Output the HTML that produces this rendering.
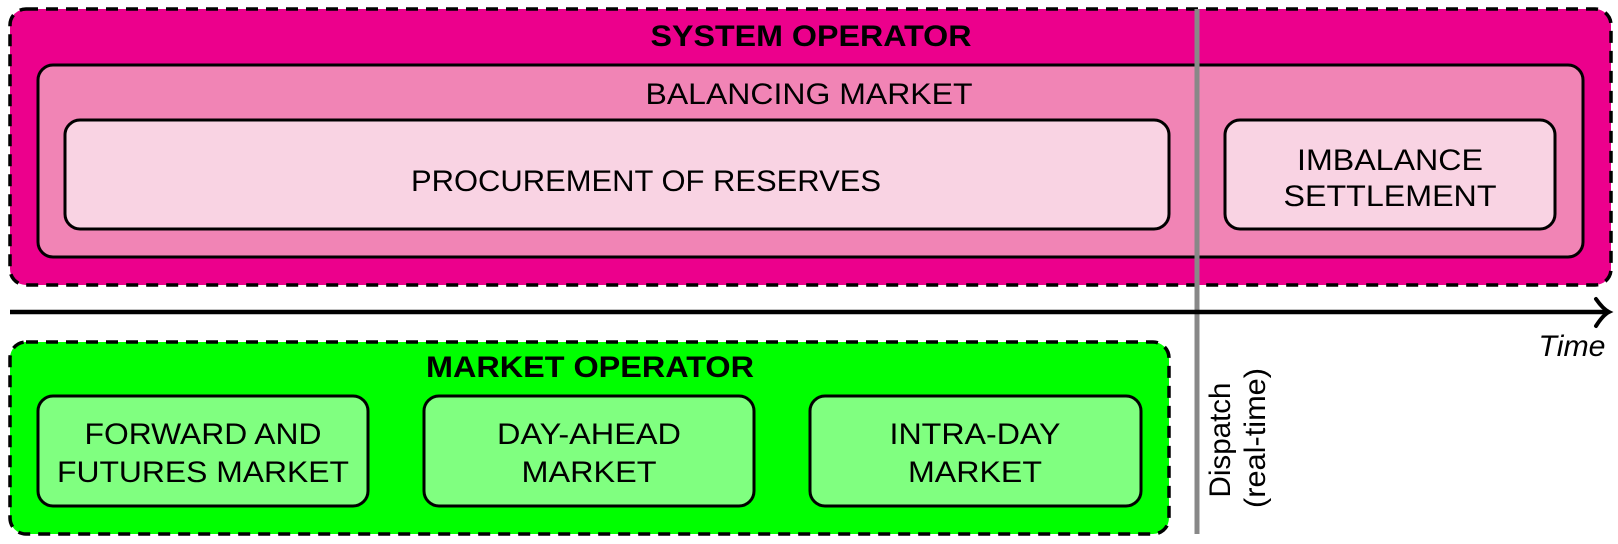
<!DOCTYPE html>
<html><head><meta charset="utf-8"><style>html,body{margin:0;padding:0;background:#fff}svg{display:block}</style></head>
<body>
<svg width="1618" height="544" viewBox="0 0 1618 544" xmlns="http://www.w3.org/2000/svg" font-family="'Liberation Sans', sans-serif">
<rect x="10" y="9" width="1601" height="276" rx="16" fill="#EC008C" stroke="#000" stroke-width="3.5" stroke-dasharray="12,8"/>
<rect x="38" y="65" width="1545" height="192" rx="15" fill="#F184B5" stroke="#000" stroke-width="3"/>
<rect x="65" y="120" width="1104" height="109" rx="15" fill="#F9D3E3" stroke="#000" stroke-width="3"/>
<rect x="1225" y="120" width="330" height="109" rx="15" fill="#F9D3E3" stroke="#000" stroke-width="3"/>
<rect x="10" y="342" width="1159" height="192" rx="16" fill="#00FF00" stroke="#000" stroke-width="3.5" stroke-dasharray="12,8"/>
<rect x="38" y="396" width="330" height="110" rx="15" fill="#80FF80" stroke="#000" stroke-width="3"/>
<rect x="424" y="396" width="330" height="110" rx="15" fill="#80FF80" stroke="#000" stroke-width="3"/>
<rect x="810" y="396" width="331" height="110" rx="15" fill="#80FF80" stroke="#000" stroke-width="3"/>
<line x1="1197" y1="9" x2="1197" y2="534" stroke="#888" stroke-width="5"/>
<line x1="10" y1="312" x2="1606" y2="312" stroke="#000" stroke-width="4.5"/>
<path d="M1596 299 Q1603 309 1609 312 Q1603 315 1596 326" fill="none" stroke="#000" stroke-width="4" stroke-linecap="round"/>
<g font-size="30" fill="#000" text-anchor="middle">
<text x="811" y="46" font-weight="bold" textLength="321" lengthAdjust="spacingAndGlyphs">SYSTEM OPERATOR</text>
<text x="809" y="104" textLength="327" lengthAdjust="spacingAndGlyphs">BALANCING MARKET</text>
<text x="646" y="191" textLength="470" lengthAdjust="spacingAndGlyphs">PROCUREMENT OF RESERVES</text>
<text x="1390" y="170" textLength="186" lengthAdjust="spacingAndGlyphs">IMBALANCE</text>
<text x="1390" y="206" textLength="213" lengthAdjust="spacingAndGlyphs">SETTLEMENT</text>
<text x="590" y="377" font-weight="bold" textLength="328" lengthAdjust="spacingAndGlyphs">MARKET OPERATOR</text>
<text x="203" y="444" textLength="237" lengthAdjust="spacingAndGlyphs">FORWARD AND</text>
<text x="203" y="482" textLength="292" lengthAdjust="spacingAndGlyphs">FUTURES MARKET</text>
<text x="589" y="444" textLength="184" lengthAdjust="spacingAndGlyphs">DAY-AHEAD</text>
<text x="589" y="482" textLength="135" lengthAdjust="spacingAndGlyphs">MARKET</text>
<text x="975" y="444" textLength="171" lengthAdjust="spacingAndGlyphs">INTRA-DAY</text>
<text x="975" y="482" textLength="134" lengthAdjust="spacingAndGlyphs">MARKET</text>
<text x="1572" y="356" font-style="italic" textLength="67" lengthAdjust="spacingAndGlyphs">Time</text>
<text transform="translate(1230,440) rotate(-90)" x="0" y="0" textLength="115" lengthAdjust="spacingAndGlyphs">Dispatch</text>
<text transform="translate(1265,438) rotate(-90)" x="0" y="0" textLength="140" lengthAdjust="spacingAndGlyphs">(real-time)</text>
</g>
</svg>
</body></html>
